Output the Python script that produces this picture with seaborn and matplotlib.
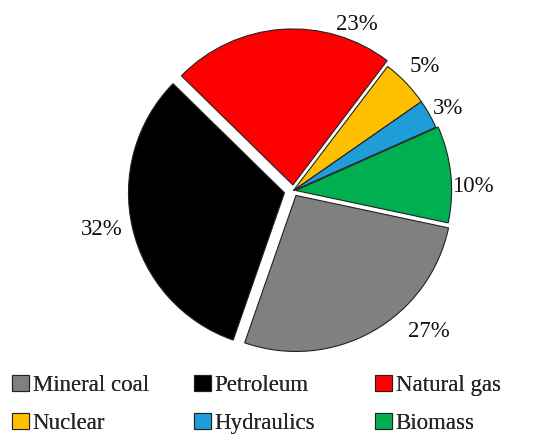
import matplotlib
matplotlib.use("Agg")
import numpy as np
import matplotlib.pyplot as plt
import seaborn as sns

sources = ["Mineral coal", "Petroleum", "Natural gas", "Nuclear", "Hydraulics", "Biomass"]
shares = [27, 32, 23, 5, 3, 10]
colors = ["#808080", "#000000", "#FF0000", "#FFC000", "#1E9DD8", "#00B050"]
explode = [0.035, 0.058, 0.037, 0.0, 0.0, 0.015]

# label placement (shift from wedge middle in degrees, distance in radii)
label_shift = [15.2, -2.6, -24.9, 0.3, -0.5, -3.8]
label_dist = [1.24, 1.25, 1.16, 1.17, 1.13, 1.155]

sns.set_theme(style="white")
plt.rcParams["font.family"] = ["Liberation Serif", "DejaVu Serif"]

fig = plt.figure(figsize=(5.5, 4.46), dpi=100)
ax = fig.add_axes([0.1645, 0.1177, 0.7375, 0.9094])

wedges, texts, autotexts = ax.pie(
    shares,
    colors=colors,
    explode=explode,
    startangle=-12,
    counterclock=False,
    autopct="%d%%",
    pctdistance=1.15,
    wedgeprops={"edgecolor": "#222222", "linewidth": 0.8},
    textprops={"fontsize": 16.5, "color": "#111111"},
)
for w, t, sh, d in zip(wedges, autotexts, label_shift, label_dist):
    mid = np.deg2rad((w.theta1 + w.theta2) / 2 + sh)
    # small downward nudge so the digits sit where the reference has them
    t.set_position((d * np.cos(mid), d * np.sin(mid) - 0.018))
    t.set_clip_on(False)

ax.set_xlim(-1.3, 1.3)
ax.set_ylim(-1.3, 1.3)
ax.set_aspect("equal")

# legend laid out as three columns of two rows
col_x = [0.022, 0.353, 0.682]
for c in range(3):
    idx = [c, c + 3]
    leg = fig.legend(
        [wedges[i] for i in idx], [sources[i] for i in idx],
        loc="upper left", bbox_to_anchor=(col_x[c], 0.159),
        frameon=False, fontsize=16.5,
        handlelength=0.75, handleheight=0.7, handletextpad=0.15,
        labelspacing=0.72, borderpad=0, borderaxespad=0,
    )
    fig.add_artist(leg)

fig.savefig("out.png", dpi=100)
